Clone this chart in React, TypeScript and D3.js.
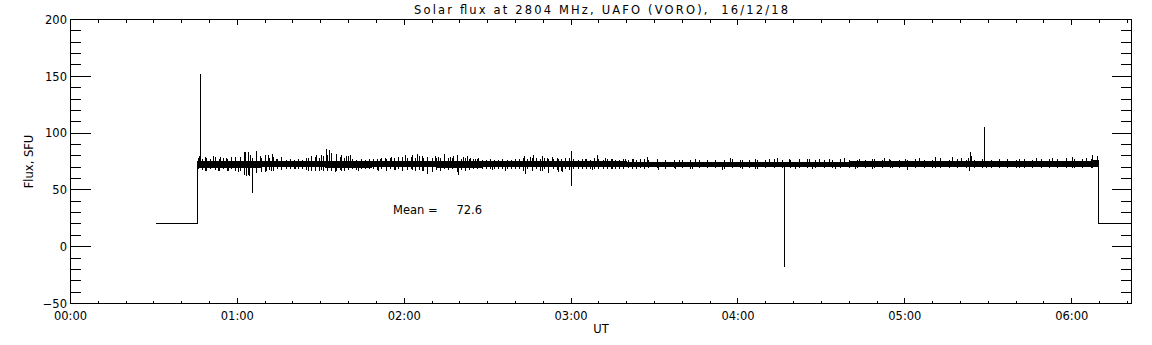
import React from 'react';
import * as d3 from 'd3';

// ---------- text ----------
const TITLE = 'Solar flux at 2804 MHz, UAFO (VORO),  16/12/18';
const Y_TITLE = 'Flux, SFU';
const X_TITLE = 'UT';
const MEAN_VALUE = 72.6;

// ---------- axes ----------
const Y_DOMAIN = [-50, 200];
const yMajorTicks = [-50, 0, 50, 100, 150, 200];
const X_DOMAIN_MIN = [0, 381.5]; // minutes UT
const xMajorTicksMin = [0, 60, 120, 180, 240, 300, 360];
const xTickLabels = ['00:00', '01:00', '02:00', '03:00', '04:00', '05:00', '06:00'];

// ---------- data (time in minutes UT, flux in SFU) ----------
// calibration level before and after the observation
const preT = [30.7, 45.5, 45.5];
const preV = [20, 20, 72];
const postT = [369.8, 369.8, 381.5];
const postV = [74, 20, 20];

// dense core of the record (lower / upper envelope)
const coreT = [45.5, 60, 80, 100, 120, 140, 160, 180, 200, 220, 240, 260, 280, 300, 320, 340, 360, 369.8];
const coreLo = [69.5, 69.5, 70, 69.5, 70, 69.5, 70, 70, 70, 70, 70, 70, 70, 70, 70.5, 70.5, 70.5, 70.5];
const coreHi = [75.5, 75.5, 75, 75.5, 75.5, 75.5, 75, 75.5, 75, 75, 75, 75, 75, 75.5, 75.5, 75.5, 75.5, 76];

// per-bin min / max of the record
const binT = [
  46, 47.5, 49, 50.5, 52, 53.5, 55, 56.5, 58, 59.5, 61, 62.5, 64, 65.5, 67, 68.5, 70, 71.5, 73, 74.5,
  76, 77.5, 79, 80.5, 82, 83.5, 85, 86.5, 88, 89.5, 91, 92.5, 94, 95.5, 97, 98.5, 100, 101.5, 103, 104.5,
  106, 107.5, 109, 110.5, 112, 113.5, 115, 116.5, 118, 119.5, 121, 122.5, 124, 125.5, 127, 128.5, 130, 131.5, 133, 134.5,
  136, 137.5, 139, 140.5, 142, 143.5, 145, 146.5, 148, 149.5, 151, 152.5, 154, 155.5, 157, 158.5, 160, 161.5, 163, 164.5,
  166, 167.5, 169, 170.5, 172, 173.5, 175, 176.5, 178, 179.5, 181, 182.5, 184, 185.5, 187, 188.5, 190, 191.5, 193, 194.5,
  196, 197.5, 199, 200.5, 202, 203.5, 205, 206.5, 208,
  211, 214, 217, 220, 223, 226, 229, 232, 235, 238, 241, 244, 247, 250, 253, 256, 259, 262, 265, 268,
  271, 274, 277, 280, 283, 286, 289, 292, 295, 298, 301, 304, 307, 310, 313, 316, 319, 322, 325, 328,
  331, 334, 337, 340, 343, 346, 349, 352, 355, 358, 361, 364, 367,
];
const binMax = [
  78, 77.5, 78.5, 77, 79, 77.5, 78, 77, 79, 77.5, 78, 80, 79, 78, 80, 78, 79.5, 78, 79, 77.5,
  78, 76.5, 77, 76.5, 77, 76.5, 78, 78.5, 79, 78, 80, 81, 80, 78.5, 79, 78, 79.5, 77, 76.5, 77,
  76.5, 77, 77.5, 77, 78, 77.5, 78.5, 78, 78, 79, 78.5, 79, 78, 79.5, 78, 77.5, 78, 78.5, 78, 79,
  78, 78.5, 79, 77.5, 78, 77.5, 77, 77.5, 76.5, 76.5, 77, 76.5, 76.5, 77, 76.5, 76.5, 77, 77.5, 78, 77.5,
  78, 78.5, 77.5, 78, 77.5, 77, 78, 77, 77.5, 78, 77, 76.5, 77, 77.5, 76.5, 78, 77, 76.5, 77.5, 77,
  76.5, 76.5, 77, 76.5, 77, 76.5, 77, 77.5, 76.5,
  76.5, 76, 76.5, 76, 76.5, 76, 76.5, 76, 76.5, 77, 76, 76.5, 76, 76.5, 77, 76.5, 76, 76.5, 77, 76.5,
  76, 76.5, 77, 76.5, 76.5, 76, 77, 76.5, 76.5, 76, 76.5, 77, 76.5, 76.5, 77, 76.5, 77, 76.5, 76.5, 77,
  76.5, 76.5, 77, 76.5, 77, 76.5, 77, 77, 77, 77.5, 77, 77.5, 77,
];
const binMin = [
  68, 67.5, 67, 68, 67.5, 66.5, 68, 67, 68, 67, 66.5, 64, 63.5, 66, 66, 67, 66, 67.5, 67, 68,
  67.5, 68.5, 68, 68.5, 68.5, 68, 67.5, 67, 67.5, 67, 67, 66.5, 67, 66.5, 67.5, 67, 67.5, 68, 67.5, 68.5,
  68, 68.5, 68, 67.5, 68, 67, 68, 67.5, 68, 67, 67.5, 68, 67, 67.5, 67, 66, 67, 67.5, 67, 68,
  67.5, 68, 66, 67.5, 68, 67.5, 68, 68.5, 68.5, 68, 68.5, 68.5, 68, 68.5, 68, 68.5, 68.5, 68, 67, 68,
  67.5, 68, 67, 68, 67, 68, 67.5, 67, 68, 67.5, 68, 68.5, 68.5, 68, 68.5, 68.5, 68, 68.5, 68.5, 68.5,
  68, 68.5, 68.5, 69, 68.5, 68.5, 69, 68.5, 69,
  69, 68.5, 69, 69, 68.5, 69, 69, 69, 68.5, 69, 69, 69, 68.5, 69, 69, 69, 69, 69, 69, 69,
  69.5, 69, 69, 69, 69.5, 69, 69.5, 69, 69.5, 69, 69.5, 69, 69.5, 69, 69.5, 69, 69.5, 69, 69.5, 69.5,
  69.5, 69, 69.5, 69.5, 69.5, 69, 69.5, 69.5, 69, 69.5, 69.5, 69, 69.5,
];

// individual excursions (spikes) read from the record
const spikeT = [
  46.6, 46.5, 48.6, 51.4, 54.1, 56.2, 58, 59.2, 61, 62.4, 63, 64, 64.6, 67, 68.2, 70, 71.2, 72.6, 74.2, 76,
  85.6, 86.8, 88.6, 90.4, 92.2, 93.1, 94, 95.8, 97.6, 99.4, 100.6, 111.4, 113.2, 115.6, 118, 120.4, 122.8, 124.6, 126.4,
  48.4, 53.2, 56.8, 60.4, 62.5, 63.4, 64.2, 65.4, 67, 68.8, 70.6, 72.4, 76, 80.8, 85.6, 88, 90.4, 95.2, 97.6, 103.6, 110.8, 116.8, 122.8, 126.4,
  128.2, 130, 131.2, 132.4, 134.5, 136.6, 137.8, 139, 141.4, 142.6, 143.8, 145.6, 146.8, 163.3, 165.4, 166.6, 169.6, 171.4, 173.2, 175.6, 178, 180.1, 185.2, 189.4, 192.4, 194.8, 199.6, 202.6, 207.4,
  128.2, 130, 133, 139.6, 142, 151.6, 156.4, 163.6, 166, 169.6, 172, 175.6, 176.8, 180.1, 187.6, 194.8, 202,
  211, 214, 218.8, 224.8, 232, 237.4, 241.6, 246.4, 251.2, 254.2, 258.4, 262, 265.6, 269.2, 272.8, 278.2, 283.6, 288.4, 292.6,
  211.6, 217.6, 223.6, 234.4, 241.6, 246.4, 256.9, 260.8, 266.8, 275.2, 282.4, 288.4,
  294.4, 300.4, 305.2, 311.2, 313, 317.2, 320.2, 322.9, 323.5, 324.1, 328.5, 334, 341.2, 347.2, 353.2, 358, 360.4, 365.2, 367.6, 369.4,
  295.6, 300.9, 311.2, 323.4, 329.2, 341.2, 353.2, 360.4, 367.6,
];
const spikeV = [
  152, 79.7, 78.6, 79.5, 78.9, 78, 78.6, 78.6, 78.9, 83.3, 83.3, 83.3, 81, 83.9, 79.5, 80.4, 81, 81.5, 77.5, 79,
  78, 79.5, 81, 81, 86.2, 84.8, 82.4, 81.5, 81, 79.5, 80.4, 77.5, 78, 78.6, 79, 81, 80.4, 81.5, 79.5,
  66.4, 66.9, 66.4, 65.8, 62.8, 62, 62.5, 47.5, 64.9, 65.8, 66.4, 66.9, 67.5, 68.1, 66.9, 66.4, 67.5, 65.8, 66.9, 66.4, 66.9, 67.5, 67.5, 66.9,
  78.6, 78, 79.5, 78.6, 81.5, 78.6, 79.5, 81, 78.6, 79.5, 78, 77.5, 78, 79.5, 78.6, 80.4, 79.5, 78, 78.6, 77.5, 78, 83.9, 77.5, 81, 78, 77, 77, 77.5, 78.6,
  64, 65.8, 66.4, 62.8, 66.9, 67.8, 66.9, 64, 66.4, 66.4, 64.9, 65.8, 65.8, 53.2, 67.8, 68.1, 68.1,
  77.5, 76.6, 76.6, 76.9, 76.6, 78, 76.6, 76.9, 77.2, 78, 77.5, 76.9, 77.5, 77.2, 76.9, 78, 77.5, 77.5, 78,
  67.8, 68.1, 68.7, 67.5, 68.7, 68.1, -17.5, 68.7, 68.7, 68.7, 68.7, 68.7,
  77.5, 77.5, 78, 78.6, 78, 78.6, 78, 78, 83.3, 79.5, 105.8, 77.5, 77.5, 78, 78, 78, 78.6, 78, 80.4, 79.5,
  69.2, 67.8, 69.2, 66.9, 69.2, 69.2, 69.8, 69.2, 69.2,
];

const W = 1152;
const H = 345;
const FONT = '"DejaVu Sans", sans-serif';

export default function App() {
  const x = d3.scaleLinear().domain(X_DOMAIN_MIN).range([70.5, 1131.5]);
  const y = d3.scaleLinear().domain(Y_DOMAIN).range([303.5, 19.5]);
  const [x0, x1] = x.range();
  const [yb, yt] = y.range();

  const yMinor = d3.range(Y_DOMAIN[0], Y_DOMAIN[1] + 0.001, 10).filter((v) => !yMajorTicks.includes(v));
  const xMinor = d3.range(0, X_DOMAIN_MIN[1], 10).filter((v) => !xMajorTicksMin.includes(v));

  const line = d3.line<[number, number]>().x((d) => x(d[0])).y((d) => y(d[1]));
  const area = d3
    .area<number>()
    .x((_, i) => x(coreT[i]))
    .y0((_, i) => y(coreLo[i]))
    .y1((_, i) => y(coreHi[i]));

  const pre = preT.map((t, i) => [t, preV[i]] as [number, number]);
  const post = postT.map((t, i) => [t, postV[i]] as [number, number]);

  const snap = (v: number) => Math.round(v - 0.5) + 0.5;

  return (
    <svg width={W} height={H} style={{ position: 'absolute', left: 0, top: 0, background: '#fff' }} fontFamily={FONT}>
      <rect x={0} y={0} width={W} height={H} fill="#fff" />
      {/* data */}
      <g shapeRendering="crispEdges">
        <path d={area(coreT) || ''} fill="#000" />
        <path d={line(pre) || ''} fill="none" stroke="#000" strokeWidth={1} />
        <path d={line(post) || ''} fill="none" stroke="#000" strokeWidth={1} />
        {binT.map((t, i) => (
          <line key={'b' + i} x1={snap(x(t))} x2={snap(x(t))} y1={y(binMin[i])} y2={y(binMax[i])} stroke="#000" strokeWidth={1} />
        ))}
        {spikeT.map((t, i) => (
          <line key={'s' + i} x1={snap(x(t))} x2={snap(x(t))} y1={y(MEAN_VALUE)} y2={y(spikeV[i])} stroke="#000" strokeWidth={1} />
        ))}
      </g>
      {/* frame */}
      <g shapeRendering="crispEdges" stroke="#000" strokeWidth={1}>
        <rect x={x0} y={yt} width={x1 - x0} height={yb - yt} fill="none" />
        {yMajorTicks.map((v) => (
          <g key={'ym' + v}>
            <line x1={x0} x2={x0 + 20} y1={snap(y(v))} y2={snap(y(v))} />
            <line x1={x1} x2={x1 - 20} y1={snap(y(v))} y2={snap(y(v))} />
          </g>
        ))}
        {yMinor.map((v) => (
          <g key={'yn' + v}>
            <line x1={x0} x2={x0 + 10.5} y1={snap(y(v))} y2={snap(y(v))} />
            <line x1={x1} x2={x1 - 10.5} y1={snap(y(v))} y2={snap(y(v))} />
          </g>
        ))}
        {xMajorTicksMin.map((t) => (
          <g key={'xm' + t}>
            <line x1={snap(x(t))} x2={snap(x(t))} y1={yb} y2={yb - 5.5} />
            <line x1={snap(x(t))} x2={snap(x(t))} y1={yt} y2={yt + 5.5} />
          </g>
        ))}
        {xMinor.map((t) => (
          <g key={'xn' + t}>
            <line x1={snap(x(t))} x2={snap(x(t))} y1={yb} y2={yb - 3} />
            <line x1={snap(x(t))} x2={snap(x(t))} y1={yt} y2={yt + 3} />
          </g>
        ))}
      </g>
      {/* labels */}
      <g fill="#000" fontSize={11.5}>
        {yMajorTicks.map((v) => (
          <text key={'yl' + v} x={67} y={y(v) + 4.2} textAnchor="end">
            {v < 0 ? '\u2212' + Math.abs(v) : String(v)}
          </text>
        ))}
        {xMajorTicksMin.map((t, i) => (
          <text key={'xl' + t} x={x(t)} y={320} textAnchor="middle">
            {xTickLabels[i]}
          </text>
        ))}
        <text x={(x0 + x1) / 2} y={333} textAnchor="middle">{X_TITLE}</text>
        <text x={(x0 + x1) / 2} y={14} textAnchor="middle" textLength={374} lengthAdjust="spacing" style={{ whiteSpace: 'pre' }}>
          {TITLE}
        </text>
        <text transform={`translate(33, ${(yt + yb) / 2}) rotate(-90)`} textAnchor="middle">{Y_TITLE}</text>
        <text x={393} y={214}>Mean =</text>
        <text x={482} y={214} textAnchor="end">{MEAN_VALUE.toFixed(1)}</text>
      </g>
    </svg>
  );
}
